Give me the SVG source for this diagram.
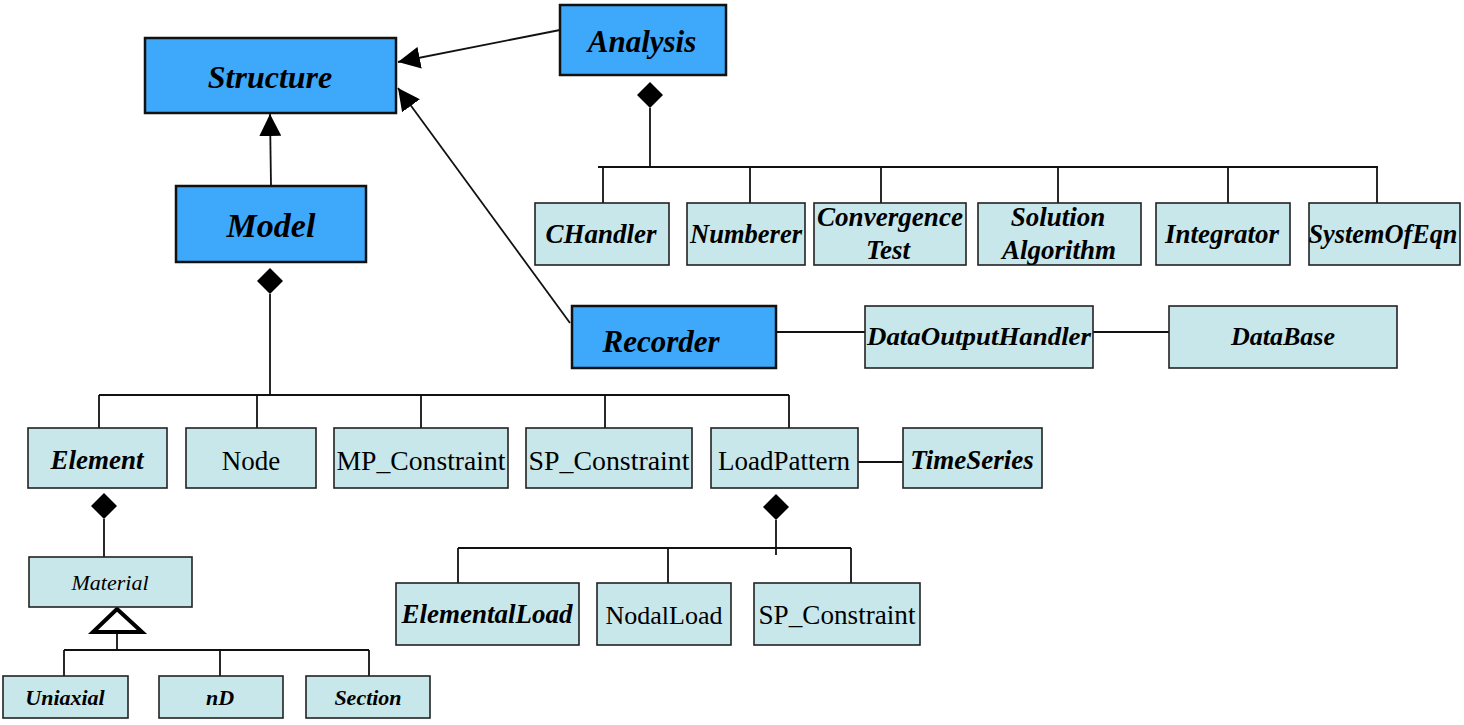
<svg xmlns="http://www.w3.org/2000/svg" width="1464" height="725" viewBox="0 0 1464 725">
<style>
.main rect{fill:#3ea9fb;stroke:#111;stroke-width:2.5}
.sub rect{fill:#c8e7ea;stroke:#222;stroke-width:1.6}
text{font-family:'Liberation Serif','DejaVu Serif',serif;text-anchor:middle;fill:#000}
.bi{font-weight:bold;font-style:italic}
.big{font-size:32px}
.med{font-size:26px}
.reg{font-size:27px}
.it{font-style:italic;font-size:22px}
.sm{font-size:22px}
#connectors line{stroke:#111;stroke-width:1.8;fill:none}
.dia{fill:#000}
</style>
<defs>
<marker id="arr" markerUnits="userSpaceOnUse" markerWidth="24" markerHeight="22" refX="22" refY="11" orient="auto">
<path d="M0,0 L22,11 L0,22 Z" fill="#000"/>
</marker>
<path id="diamond" d="M0,-13 L13,0 L0,13 L-13,0 Z"/>
</defs>

<g id="connectors">
<line x1="560" y1="30" x2="398" y2="62" marker-end="url(#arr)"/>
<line x1="570" y1="323" x2="398" y2="88" marker-end="url(#arr)"/>
<line x1="271" y1="186" x2="270" y2="114" marker-end="url(#arr)"/>
<use href="#diamond" x="650" y="95" class="dia"/>
<line x1="650" y1="108" x2="650" y2="167"/>
<line x1="598" y1="167" x2="1378" y2="167"/>
<line x1="603" y1="167" x2="603" y2="203"/>
<line x1="750" y1="167" x2="750" y2="203"/>
<line x1="881" y1="167" x2="881" y2="203"/>
<line x1="1058" y1="167" x2="1058" y2="203"/>
<line x1="1228" y1="167" x2="1228" y2="203"/>
<line x1="1377" y1="167" x2="1377" y2="203"/>
<line x1="776" y1="332" x2="865" y2="332"/>
<line x1="1093" y1="332" x2="1169" y2="332"/>
<use href="#diamond" x="270" y="281" class="dia"/>
<line x1="270" y1="294" x2="270" y2="395"/>
<line x1="99" y1="395" x2="789" y2="395"/>
<line x1="99" y1="395" x2="99" y2="428"/>
<line x1="257" y1="395" x2="257" y2="428"/>
<line x1="421" y1="395" x2="421" y2="428"/>
<line x1="605" y1="395" x2="605" y2="428"/>
<line x1="789" y1="395" x2="789" y2="428"/>
<line x1="858" y1="462" x2="903" y2="462"/>
<use href="#diamond" x="104" y="506" class="dia"/>
<line x1="104" y1="519" x2="104" y2="557"/>
<path d="M117,609 L142,632 L93,632 Z" fill="#fff" stroke="#000" stroke-width="4" stroke-linejoin="miter"/>
<line x1="117" y1="634" x2="117" y2="650"/>
<line x1="64" y1="650" x2="369" y2="650"/>
<line x1="64" y1="650" x2="64" y2="676"/>
<line x1="220" y1="650" x2="220" y2="676"/>
<line x1="369" y1="650" x2="369" y2="676"/>
<use href="#diamond" x="776" y="507" class="dia"/>
<line x1="776" y1="520" x2="776" y2="555"/>
<line x1="458" y1="548" x2="851" y2="548"/>
<line x1="458" y1="548" x2="458" y2="583"/>
<line x1="668" y1="548" x2="668" y2="583"/>
<line x1="851" y1="548" x2="851" y2="583"/>
</g>

<g id="structure" class="main"><rect x="145" y="38" width="251" height="75"/><text x="270" y="88" class="bi big">Structure</text></g>
<g id="analysis" class="main"><rect x="560" y="5" width="166" height="70"/><text x="642" y="52" class="bi big" style="font-size:31px">Analysis</text></g>
<g id="model" class="main"><rect x="176" y="186" width="190" height="76"/><text x="271" y="237" class="bi big" style="font-size:34px">Model</text></g>
<g id="recorder" class="main"><rect x="572" y="306" width="204" height="62"/><text x="661" y="352" class="bi big" style="font-size:31px">Recorder</text></g>

<g id="dataoutputhandler" class="sub"><rect x="865" y="306" width="228" height="62"/><text x="979" y="345" class="bi med" textLength="224" lengthAdjust="spacingAndGlyphs">DataOutputHandler</text></g>
<g id="database" class="sub"><rect x="1169" y="306" width="228" height="62"/><text x="1283" y="345" class="bi med">DataBase</text></g>

<g id="chandler" class="sub"><rect x="535" y="203" width="134" height="62"/><text x="601" y="243" class="bi med" style="font-size:27px">CHandler</text></g>
<g id="numberer" class="sub"><rect x="687" y="203" width="118" height="62"/><text x="746" y="243" class="bi med" style="font-size:27px" textLength="112" lengthAdjust="spacingAndGlyphs">Numberer</text></g>
<g id="convergencetest" class="sub"><rect x="814" y="203" width="152" height="62"/><text x="890" y="226" class="bi med" style="font-size:27px" textLength="146" lengthAdjust="spacingAndGlyphs">Convergence</text><text x="888" y="259" class="bi med" style="font-size:27px">Test</text></g>
<g id="solutionalgorithm" class="sub"><rect x="978" y="203" width="163" height="62"/><text x="1058" y="226" class="bi med" style="font-size:27px">Solution</text><text x="1059" y="259" class="bi med" style="font-size:27px">Algorithm</text></g>
<g id="integrator" class="sub"><rect x="1156" y="203" width="134" height="62"/><text x="1222" y="243" class="bi med" style="font-size:27px">Integrator</text></g>
<g id="systemofeqn" class="sub"><rect x="1309" y="203" width="151" height="62"/><text x="1383" y="243" class="bi med" style="font-size:27px" textLength="149" lengthAdjust="spacingAndGlyphs">SystemOfEqn</text></g>

<g id="element" class="sub"><rect x="28" y="428" width="139" height="60"/><text x="97" y="469" class="bi med" style="font-size:27px">Element</text></g>
<g id="node" class="sub"><rect x="186" y="428" width="130" height="60"/><text x="251" y="470" class="reg">Node</text></g>
<g id="mp_constraint" class="sub"><rect x="334" y="428" width="174" height="60"/><text x="421" y="470" class="reg" textLength="169" lengthAdjust="spacingAndGlyphs">MP_Constraint</text></g>
<g id="sp_constraint" class="sub"><rect x="526" y="428" width="166" height="60"/><text x="609" y="470" class="reg" textLength="161" lengthAdjust="spacingAndGlyphs">SP_Constraint</text></g>
<g id="loadpattern" class="sub"><rect x="711" y="428" width="147" height="60"/><text x="784" y="470" class="reg">LoadPattern</text></g>
<g id="timeseries" class="sub"><rect x="903" y="428" width="139" height="60"/><text x="972" y="469" class="bi med" style="font-size:27px">TimeSeries</text></g>

<g id="material" class="sub"><rect x="29" y="557" width="163" height="50"/><text x="110" y="590" class="it">Material</text></g>
<g id="uniaxial" class="sub"><rect x="3" y="676" width="125" height="42"/><text x="65" y="705" class="bi sm">Uniaxial</text></g>
<g id="nd" class="sub"><rect x="159" y="676" width="124" height="42"/><text x="220" y="705" class="bi sm">nD</text></g>
<g id="section" class="sub"><rect x="306" y="676" width="124" height="42"/><text x="368" y="705" class="bi sm">Section</text></g>

<g id="elementalload" class="sub"><rect x="396" y="583" width="183" height="62"/><text x="487" y="623" class="bi med" style="font-size:27px">ElementalLoad</text></g>
<g id="nodalload" class="sub"><rect x="597" y="583" width="134" height="62"/><text x="664" y="624" class="reg" style="font-size:26px">NodalLoad</text></g>
<g id="sp_constraint2" class="sub"><rect x="754" y="583" width="166" height="62"/><text x="837" y="624" class="reg" textLength="157" lengthAdjust="spacingAndGlyphs">SP_Constraint</text></g>
</svg>
